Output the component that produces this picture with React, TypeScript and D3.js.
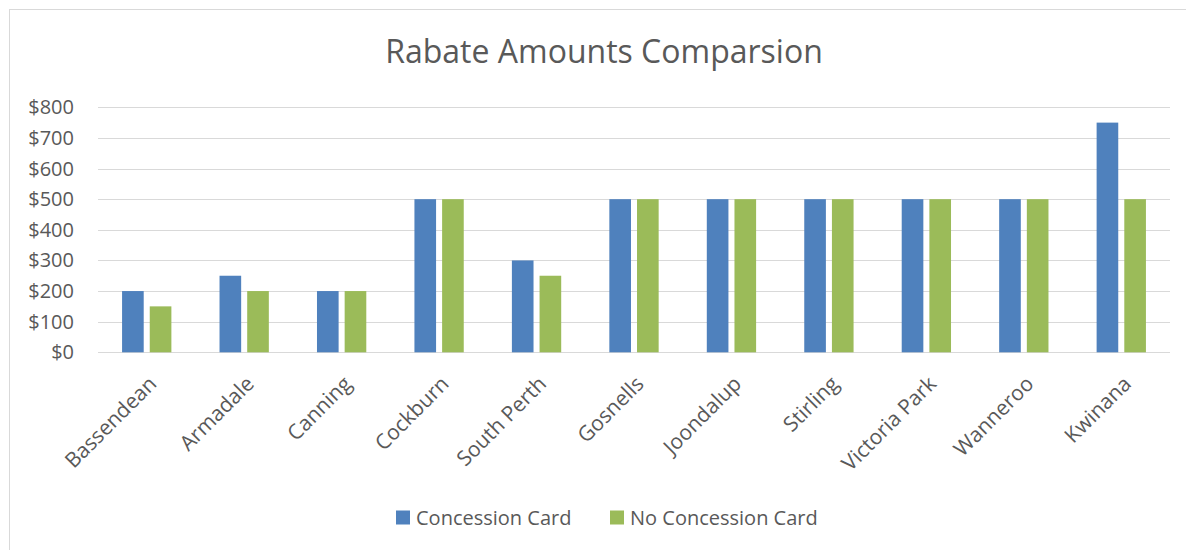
import React from "react";
import * as d3 from "d3";

const categories = ["Bassendean", "Armadale", "Canning", "Cockburn", "South Perth", "Gosnells", "Joondalup", "Stirling", "Victoria Park", "Wanneroo", "Kwinana"];
const concessionCard = [200, 250, 200, 500, 300, 500, 500, 500, 500, 500, 750];
const noConcessionCard = [150, 200, 200, 500, 250, 500, 500, 500, 500, 500, 500];
const seriesNames = ["Concession Card", "No Concession Card"];
const yTicks = [0, 100, 200, 300, 400, 500, 600, 700, 800];
const title = "Rabate Amounts Comparsion";

const W = 1186;
const H = 550;
const colors = ["#4f81bd", "#9bbb59"];
const textColor = "#595959";
const font = "'Open Sans', sans-serif";

export default function App() {
  const left = 98;
  const right = 1170;
  const top = 107.3;
  const bottom = 352.3;
  const x = d3.scaleBand<string>().domain(categories).range([left, right]).padding(0);
  const y = d3.scaleLinear().domain([0, 800]).range([bottom, top]);
  const band = x.bandwidth();
  const barW = band * 0.222;
  const gap = band * 0.062;
  const series = [concessionCard, noConcessionCard];
  const fmt = (v: number) => "$" + d3.format(",")(v);

  return (
    <svg width={W} height={H} style={{ position: "absolute", left: 0, top: 0, background: "#fff" }} fontFamily={font}>
      <rect x={9.5} y={9.5} width={W + 20} height={H + 20} fill="#fff" stroke="#d9d9d9" strokeWidth={1} />
      <text x={604} y={63} textAnchor="middle" fontSize={32} fill={textColor}>{title}</text>
      {yTicks.map((t) => (
        <g key={t}>
          <line x1={left} x2={right} y1={Math.round(y(t)) + 0.5} y2={Math.round(y(t)) + 0.5} stroke="#d9d9d9" strokeWidth={1} />
          <text x={74} y={y(t) + 7} textAnchor="end" fontSize={20} fill={textColor}>{fmt(t)}</text>
        </g>
      ))}
      {categories.map((c, i) => {
        const cx = (x(c) as number) + band / 2;
        return (
          <g key={c}>
            {series.map((s, j) => {
              const bx = j === 0 ? cx - gap / 2 - barW : cx + gap / 2;
              return <rect key={j} x={bx} y={y(s[i])} width={barW} height={bottom - y(s[i])} fill={colors[j]} />;
            })}
            <text transform={`translate(${cx},${374}) rotate(-45)`} textAnchor="end" dy="0.75em" fontSize={21} fill={textColor}>{c}</text>
          </g>
        );
      })}
      {seriesNames.map((n, j) => {
        const lx = j === 0 ? 396 : 610;
        return (
          <g key={n}>
            <rect x={lx} y={510.5} width={14} height={14} fill={colors[j]} />
            <text x={lx + 20} y={524.5} fontSize={20} fill={textColor}>{n}</text>
          </g>
        );
      })}
    </svg>
  );
}
